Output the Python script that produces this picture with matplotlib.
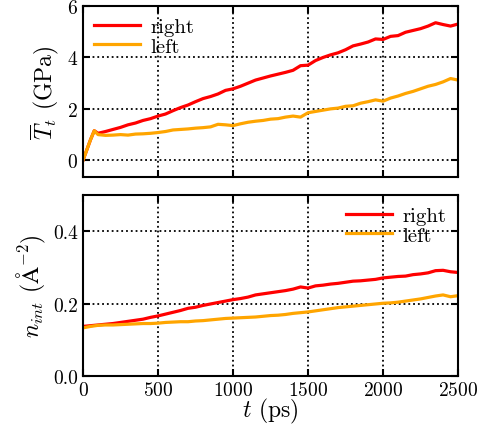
import numpy as np
import matplotlib
matplotlib.use('Agg')
import matplotlib.pyplot as plt

plt.rcParams['font.family'] = 'serif'
plt.rcParams['font.serif'] = ['cmr10', 'DejaVu Serif']
plt.rcParams['mathtext.fontset'] = 'cm'
plt.rcParams['axes.formatter.use_mathtext'] = True

# 上图：平均张力 (GPa)
t_top = [0, 25, 50, 75] + list(range(100, 2501, 50))
T_right = [0.0, 0.4, 0.8, 1.15, 1.05, 1.12, 1.2, 1.28, 1.38, 1.45, 1.55, 1.62, 1.72, 1.80,
           1.93, 2.05, 2.15, 2.28, 2.40, 2.48, 2.58, 2.72, 2.78, 2.88, 3.0, 3.12, 3.2, 3.28,
           3.35, 3.42, 3.5, 3.68, 3.70, 3.88, 4.0, 4.1, 4.18, 4.3, 4.45, 4.52, 4.6, 4.72,
           4.70, 4.82, 4.85, 4.98, 5.05, 5.12, 5.22, 5.35, 5.28, 5.22, 5.3]
T_left = [0.0, 0.4, 0.8, 1.15, 1.0, 0.97, 0.98, 1.0, 0.98, 1.02, 1.03, 1.05, 1.08, 1.12,
          1.18, 1.2, 1.22, 1.25, 1.27, 1.3, 1.4, 1.38, 1.35, 1.42, 1.48, 1.52, 1.55, 1.6,
          1.62, 1.68, 1.72, 1.68, 1.85, 1.9, 1.95, 2.0, 2.03, 2.1, 2.12, 2.22, 2.28, 2.35,
          2.3, 2.42, 2.5, 2.6, 2.68, 2.78, 2.88, 2.95, 3.05, 3.18, 3.12]

# 下图：界面密度
t_bot = list(range(0, 2501, 50))
n_right = [0.137, 0.139, 0.141, 0.143, 0.145, 0.148, 0.151, 0.154, 0.157, 0.162, 0.166,
           0.171, 0.176, 0.181, 0.187, 0.190, 0.195, 0.199, 0.203, 0.207, 0.211, 0.214,
           0.218, 0.224, 0.227, 0.230, 0.233, 0.236, 0.240, 0.246, 0.243, 0.249, 0.251,
           0.254, 0.256, 0.259, 0.262, 0.263, 0.265, 0.267, 0.271, 0.273, 0.275, 0.276,
           0.280, 0.282, 0.285, 0.291, 0.292, 0.288, 0.286]
n_left = [0.133, 0.137, 0.140, 0.141, 0.141, 0.142, 0.143, 0.144, 0.145, 0.145, 0.146,
          0.148, 0.149, 0.150, 0.150, 0.152, 0.153, 0.155, 0.157, 0.159, 0.160, 0.161,
          0.162, 0.163, 0.165, 0.167, 0.168, 0.170, 0.173, 0.175, 0.177, 0.180, 0.183,
          0.186, 0.189, 0.191, 0.193, 0.195, 0.197, 0.199, 0.201, 0.202, 0.204, 0.207,
          0.210, 0.213, 0.217, 0.221, 0.224, 0.219, 0.222]

fig = plt.figure(figsize=(4.79, 4.39), dpi=100)
ax1 = fig.add_axes([0.1733, 0.5945, 0.783, 0.3895])
ax2 = fig.add_axes([0.1733, 0.1412, 0.783, 0.4123])

lw = 2.3
ax1.plot(t_top, T_right, color='red', lw=lw, label='right')
ax1.plot(t_top, T_left, color='orange', lw=lw, label='left')
ax2.plot(t_bot, n_right, color='red', lw=lw, label='right')
ax2.plot(t_bot, n_left, color='orange', lw=lw, label='left')

ax1.set_ylim(-0.65, 6)
ax1.set_yticks([0, 2, 4, 6])
ax2.set_ylim(0, 0.5)
ax2.set_yticks([0.0, 0.2, 0.4])
ax2.set_yticklabels(['0.0', '0.2', '0.4'])

for ax in (ax1, ax2):
    ax.set_xlim(0, 2500)
    ax.set_xticks([0, 500, 1000, 1500, 2000, 2500])
    ax.grid(True, color='black', linestyle=':', linewidth=1.3)
    ax.tick_params(direction='in', top=True, right=True, length=5, width=1.5,
                   labelsize=14)
    for s in ax.spines.values():
        s.set_linewidth(1.5)
    ax.legend(frameon=False, fontsize=15, handlelength=2.2, borderaxespad=0.15,
              labelspacing=0.05, handletextpad=0.5,
              loc='upper left' if ax is ax1 else 'upper right')

ax1.tick_params(labelbottom=False)
ax1.set_ylabel(r'$\overline{T}_t$ (GPa)', fontsize=17)
ax2.set_ylabel(r'$n_{int}$ ($\mathrm{\AA}^{-2}$)', fontsize=17)
ax2.set_xlabel(r'$t$ (ps)', fontsize=17, labelpad=-2)

fig.savefig('out.png', dpi=100)
